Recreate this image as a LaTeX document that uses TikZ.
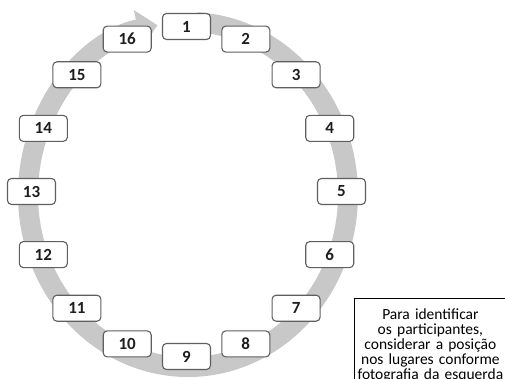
\documentclass[tikz,border=0pt]{standalone}
\usepackage{fontspec}
\setmainfont{Carlito}
\usetikzlibrary{calc,arrows.meta}
\definecolor{ringgray}{RGB}{200,200,200}
\definecolor{seatgray}{RGB}{95,95,95}
\definecolor{numblack}{RGB}{30,30,30}
\tikzset{
  seat/.style={draw=seatgray, fill=white, rounded corners=4pt, line width=1.1pt,
    minimum width=48pt, minimum height=26pt, inner sep=0pt,
    text=numblack, font=\fontsize{17}{17}\selectfont\bfseries},
  notebox/.style={draw=black, line width=0.8pt, fill=white, align=center,
    text width=146pt, minimum width=152pt, minimum height=95pt, anchor=north west,
    inner xsep=3pt, inner ysep=4pt, font=\fontsize{15.5}{15}\selectfont}
}
\begin{document}
\begin{tikzpicture}[x=1pt, y=1pt, line cap=round, line join=round]
\useasboundingbox (0,0) rectangle (505,378);
\clip (0,0) rectangle (505,378);
\coordinate (rc) at (188,183.5);

% grey ring arrow
\draw[ringgray, line width=20pt, line cap=butt, -{Triangle[length=20pt,width=38pt]}]
  ($(rc)+(87:160 and 172.5)$) arc[start angle=87, end angle=-259, x radius=160, y radius=172.5];

\node[seat] (s1)  at (186.5,351.5) {1};
\node[seat] (s2)  at (245.8,338.9) {2};
\node[seat] (s3)  at (296.1,303.2) {3};
\node[seat] (s4)  at (329.7,249.6) {4};
\node[seat] (s5)  at (341.5,186.5) {5};
\node[seat] (s6)  at (329.7,123.4) {6};
\node[seat] (s7)  at (296.1,69.8)  {7};
\node[seat] (s8)  at (245.8,34.1)  {8};
\node[seat] (s9)  at (186.5,21.5)  {9};
\node[seat] (s10) at (127.2,34.1)  {10};
\node[seat] (s11) at (76.9,69.8)   {11};
\node[seat] (s12) at (43.3,123.4)  {12};
\node[seat] (s13) at (31.5,186.5)  {13};
\node[seat] (s14) at (43.3,249.6)  {14};
\node[seat] (s15) at (76.9,303.2)  {15};
\node[seat] (s16) at (127.2,338.9) {16};

\node[notebox] (note) at (354,80) {Para identificar\\ os participantes,\\ considerar a posição\\ nos lugares conforme\\ fotografia da esquerda};
\end{tikzpicture}
\end{document}
